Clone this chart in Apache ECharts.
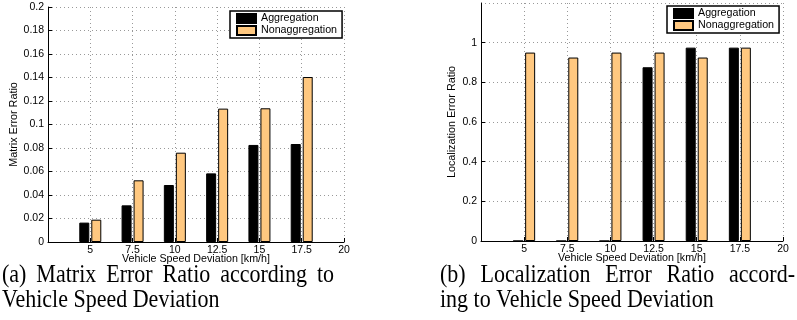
<!DOCTYPE html>
<html>
<head>
<meta charset="utf-8">
<script src="https://cdn.jsdelivr.net/npm/echarts@6/dist/echarts.min.js"></script>
<style>html,body{margin:0;padding:0;background:#fff;}#c{width:797px;height:320px;}</style>
</head>
<body>
<div id="c"></div>
<script>
// Data
const speeds = [5, 7.5, 10, 12.5, 15, 17.5];
const matrixAgg = [0.0165, 0.0312, 0.0485, 0.0584, 0.0826, 0.0834];
const matrixNonAgg = [0.019, 0.0525, 0.076, 0.1135, 0.1138, 0.1404];
const locAgg = [0, 0, 0, 0.876, 0.975, 0.975];
const locNonAgg = [0.95, 0.925, 0.95, 0.95, 0.925, 0.975];
const seriesNames = ['Aggregation', 'Nonaggregation'];
const xLabelName = 'Vehicle Speed Deviation [km/h]';
const yNameA = 'Matrix Error Ratio';
const yNameB = 'Localization Error Ratio';
const captionA = ['(a) Matrix Error Ratio according to', 'Vehicle Speed Deviation'];
const captionB = ['(b) Localization Error Ratio accord-', 'ing to Vehicle Speed Deviation'];

const pairs = arr => speeds.map((s, i) => [s, arr[i]]);
const FONT = 'Liberation Sans';
const ORANGE = '#FFC880';
const CAP_FONT = '22px "Liberation Serif"';

function xAxis(gi) {
  return {
    type: 'value', gridIndex: gi, min: 2.5, max: 20, interval: 2.5,
    name: xLabelName, nameLocation: 'middle', nameGap: 12, nameMoveOverlap: false,
    nameTextStyle: {fontFamily: FONT, fontSize: 10.7, color: '#000'},
    axisLine: {show: true, lineStyle: {color: '#000', width: 1}},
    axisTick: {show: true, inside: true, length: 4, lineStyle: {color: '#000'}},
    axisLabel: {fontFamily: FONT, fontSize: 10.5, color: '#000', margin: 3, showMinLabel: false},
    splitLine: {show: true, lineStyle: {color: '#999', type: [1, 3], width: 1}}
  };
}
function yAxis(gi, max, interval, name, gap, showMax) {
  return {
    type: 'value', gridIndex: gi, min: 0, max: max, interval: interval,
    name: name, nameLocation: 'middle', nameGap: gap, nameRotate: 90, nameMoveOverlap: false,
    nameTextStyle: {fontFamily: FONT, fontSize: 10.8, color: '#000'},
    axisLine: {show: true, lineStyle: {color: '#000', width: 1}},
    axisTick: {show: true, inside: true, length: 4, lineStyle: {color: '#000'}},
    axisLabel: {fontFamily: FONT, fontSize: 10.5, color: '#000', margin: 4, showMaxLabel: showMax},
    splitLine: {show: true, lineStyle: {color: '#999', type: [1, 3], width: 1}}
  };
}
function bar(name, data, gi, color) {
  return {
    type: 'bar', name: name, xAxisIndex: gi, yAxisIndex: gi, data: data,
    barWidth: 10, barGap: '20%',
    itemStyle: {color: color, borderColor: '#000', borderWidth: 1}
  };
}
function legend(left, top) {
  return {
    data: seriesNames, orient: 'vertical', left: left, top: top,
    padding: [2, 5, 2, 6], itemGap: 1, itemWidth: 19, itemHeight: 9,
    borderColor: '#000', borderWidth: 1.5, backgroundColor: '#fff',
    icon: 'rect', selectedMode: false,
    textStyle: {fontFamily: FONT, fontSize: 10.7, color: '#000'}
  };
}

// Caption text: first line justified to a target width (like the LaTeX source), second line ragged.
const measureCtx = document.createElement('canvas').getContext('2d');
measureCtx.font = CAP_FONT;
const CAP_SCALE_Y = 1.15;
function captionTexts(lines, x0, x1, tops) {
  const out = [];
  const words = lines[0].split(' ');
  const widths = words.map(w => measureCtx.measureText(w).width);
  const total = widths.reduce((a, b) => a + b, 0);
  const gap = (x1 - x0 - total) / (words.length - 1);
  let x = x0;
  words.forEach((w, i) => {
    out.push({type: 'text', x: x, y: tops[0], scaleY: CAP_SCALE_Y, style: {text: w, font: CAP_FONT, fill: '#000'}});
    x += widths[i] + gap;
  });
  out.push({type: 'text', x: x0, y: tops[1], scaleY: CAP_SCALE_Y, style: {text: lines[1], font: CAP_FONT, fill: '#000'}});
  return out;
}

const chart = echarts.init(document.getElementById('c'), null, {renderer: 'canvas'});
chart.setOption({
  animation: false,
  backgroundColor: '#fff',
  grid: [
    {left: 48, top: 7, width: 296, height: 235},
    {left: 481, top: 3, width: 302, height: 238}
  ],
  xAxis: [xAxis(0), xAxis(1)],
  yAxis: [yAxis(0, 0.2, 0.02, yNameA, 28, true), yAxis(1, 1.2, 0.2, yNameB, 23, false)],
  legend: [legend(230, 11), legend(667, 6)],
  series: [
    bar(seriesNames[0], pairs(matrixAgg), 0, '#000'),
    bar(seriesNames[1], pairs(matrixNonAgg), 0, ORANGE),
    bar(seriesNames[0], pairs(locAgg), 1, '#000'),
    bar(seriesNames[1], pairs(locNonAgg), 1, ORANGE)
  ],
  graphic: captionTexts(captionA, 2, 334, [263, 288]).concat(captionTexts(captionB, 440, 795, [263, 288]))
});
</script>
</body>
</html>
